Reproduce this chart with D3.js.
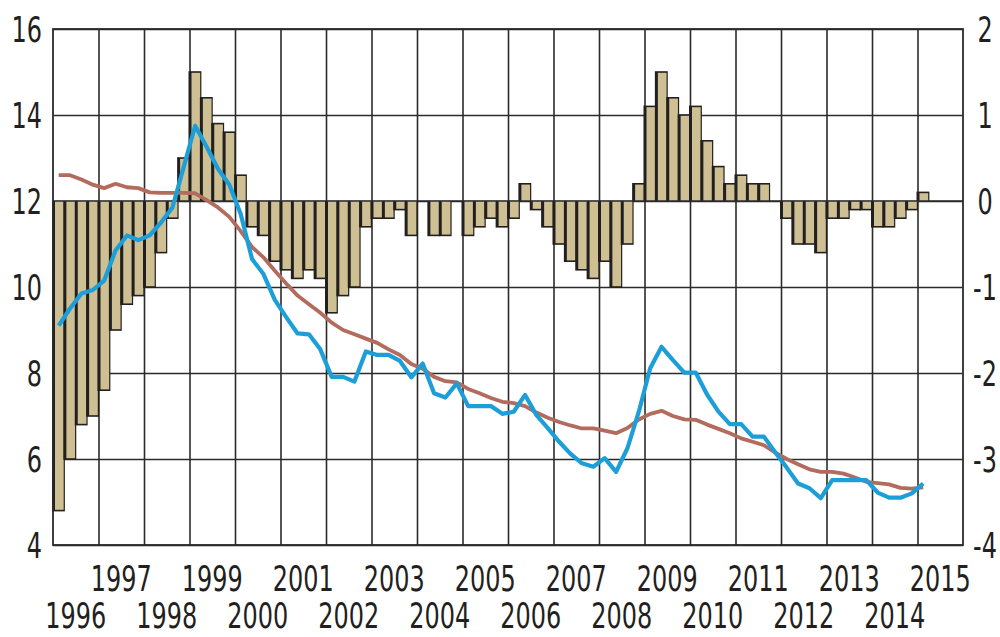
<!DOCTYPE html>
<html>
<head>
<meta charset="utf-8">
<script src="https://cdn.jsdelivr.net/npm/d3@7"></script>
<style>
	body { margin: 0; background: #fff; }
	svg { display: block; }
	.lbl {
		font-family: "Liberation Sans Narrow", "DejaVu Sans Condensed", "Arial Narrow", sans-serif;
		font-size: 36px;
		fill: #231f20;
	}
</style>
</head>
<body>
<div id="chart"></div>
<script>
const startYear = 1996;
const yearLabels = [1996, 1997, 1998, 1999, 2000, 2001, 2002, 2003, 2004, 2005,
	2006, 2007, 2008, 2009, 2010, 2011, 2012, 2013, 2014, 2015];
const leftTicks = [4, 6, 8, 10, 12, 14, 16];
const rightTicks = [-4, -3, -2, -1, 0, 1, 2];

// quarterly bars (right axis), 1996 Q1 .. 2015 Q1
const barValues = [
	-3.6, -3.0, -2.6, -2.5,
	-2.2, -1.5, -1.2, -1.1,
	-1.0, -0.6, -0.2, 0.5,
	1.5, 1.2, 0.9, 0.8,
	0.3, -0.3, -0.4, -0.7,
	-0.8, -0.9, -0.8, -0.9,
	-1.3, -1.1, -1.0, -0.3,
	-0.2, -0.2, -0.1, -0.4,
	0, -0.4, -0.4, 0,
	-0.4, -0.3, -0.2, -0.3,
	-0.2, 0.2, -0.1, -0.3,
	-0.5, -0.7, -0.8, -0.9,
	-0.7, -1.0, -0.5, 0.2,
	1.1, 1.5, 1.2, 1.0,
	1.1, 0.7, 0.4, 0.2,
	0.3, 0.2, 0.2, 0,
	-0.2, -0.5, -0.5, -0.6,
	-0.2, -0.2, -0.1, -0.1,
	-0.3, -0.3, -0.2, -0.1,
	0.1
];

// quarterly lines (left axis)
const blueLine = [
	9.1, 9.5, 9.85, 9.93,
	10.15, 10.85, 11.2, 11.09,
	11.2, 11.5, 11.85, 12.8,
	13.75, 13.26, 12.75, 12.38,
	11.7, 10.65, 10.3, 9.7,
	9.3, 8.92, 8.9, 8.55,
	7.91, 7.91, 7.8, 8.5,
	8.42, 8.42, 8.28, 7.9,
	8.22, 7.53, 7.43, 7.76,
	7.23, 7.23, 7.23, 7.05,
	7.1, 7.49, 7.02, 6.72,
	6.4, 6.12, 5.9, 5.82,
	6.02, 5.7, 6.25, 7.1,
	8.11, 8.61, 8.3, 8.01,
	8.01, 7.5, 7.1, 6.81,
	6.81, 6.52, 6.52, 6.15,
	5.8, 5.43, 5.32, 5.09,
	5.51, 5.51, 5.51, 5.51,
	5.22, 5.1, 5.1, 5.2,
	5.43
];

const redLine = [
	12.6, 12.6, 12.5, 12.38,
	12.3, 12.4, 12.32, 12.3,
	12.2, 12.19, 12.19, 12.19,
	12.18, 12.02, 11.85, 11.63,
	11.3, 10.93, 10.69, 10.38,
	10.08, 9.8, 9.6, 9.4,
	9.17, 9.0, 8.9, 8.8,
	8.7, 8.55, 8.42, 8.21,
	8.1, 7.91, 7.81, 7.78,
	7.63, 7.53, 7.42, 7.33,
	7.3, 7.23, 7.08, 6.96,
	6.86, 6.78, 6.71, 6.71,
	6.66, 6.6, 6.72, 6.92,
	7.05, 7.12, 7.0, 6.92,
	6.91, 6.8, 6.7, 6.6,
	6.48, 6.4, 6.32, 6.15,
	6.0, 5.88, 5.76, 5.7,
	5.7, 5.66, 5.57, 5.47,
	5.44, 5.41, 5.33, 5.31,
	5.34
];

const W = 1000, H = 637;
const margin = { top: 29, right: 37, bottom: 92, left: 53 };
const plotW = W - margin.left - margin.right;
const plotH = H - margin.top - margin.bottom;
const squeeze = 0.74; // condensed look for the labels

const svg = d3.select("#chart").append("svg").attr("width", W).attr("height", H);

const x = d3.scaleLinear().domain([startYear, startYear + yearLabels.length]).range([margin.left, margin.left + plotW]);
const yL = d3.scaleLinear().domain([4, 16]).range([margin.top + plotH, margin.top]);
const yR = d3.scaleLinear().domain([-4, 2]).range([margin.top + plotH, margin.top]);

const quarterX = (i) => x(startYear + (i + 0.5) / 4);

// grid
const gridColor = "#2b2b2b";
const gGrid = svg.append("g");
gGrid.append("g")
	.attr("transform", `translate(0,${margin.top + plotH})`)
	.call(d3.axisBottom(x).tickValues(yearLabels.slice(1)).tickSize(plotH).tickFormat(""))
	.call((g) => g.select(".domain").remove())
	.call((g) => g.selectAll("line").attr("transform", `translate(0,${-plotH})`).attr("stroke", gridColor).attr("stroke-width", 1.6));
gGrid.append("g")
	.attr("transform", `translate(${margin.left},0)`)
	.call(d3.axisRight(yL).tickValues(leftTicks).tickSize(plotW).tickFormat(""))
	.call((g) => g.select(".domain").remove())
	.call((g) => g.selectAll("line").attr("stroke", gridColor).attr("stroke-width", 1.6));

// bars
const step = x(startYear + 0.25) - x(startYear);
const bars = barValues.map((v, i) => ({ v, i })).filter((d) => d.v !== 0);
const barG = svg.append("g")
	.selectAll("g")
	.data(bars)
	.join("g");

barG.append("rect")
	.attr("x", (d) => x(startYear + d.i / 4) - 1)
	.attr("width", step + 1.5)
	.attr("y", (d) => (d.v > 0 ? yR(d.v) - 0.8 : yR(0)))
	.attr("height", (d) => Math.abs(yR(d.v) - yR(0)) + 0.8)
	.attr("fill", "#231f20");

barG.append("rect")
	.attr("x", (d) => x(startYear + d.i / 4) + 2)
	.attr("width", step - 2.7)
	.attr("y", (d) => (d.v > 0 ? yR(d.v) + 0.8 : yR(0)))
	.attr("height", (d) => Math.max(0, Math.abs(yR(d.v) - yR(0)) - 0.8))
	.attr("fill", "#cfc093");

// zero line over bars
svg.append("line")
	.attr("x1", margin.left).attr("x2", margin.left + plotW)
	.attr("y1", yR(0)).attr("y2", yR(0))
	.attr("stroke", gridColor).attr("stroke-width", 1.6);

// frame
svg.append("rect")
	.attr("x", margin.left).attr("y", margin.top)
	.attr("width", plotW).attr("height", plotH)
	.attr("fill", "none").attr("stroke", gridColor).attr("stroke-width", 1.8);

// lines
const line = d3.line()
	.x((d, i) => quarterX(i))
	.y((d) => yL(d));

svg.append("path")
	.datum(redLine)
	.attr("fill", "none")
	.attr("stroke", "#b26b5c")
	.attr("stroke-width", 3.8)
	.attr("stroke-linejoin", "round")
	.attr("d", line);

svg.append("path")
	.datum(blueLine)
	.attr("fill", "none")
	.attr("stroke", "#1c9fd8")
	.attr("stroke-width", 4.2)
	.attr("stroke-linejoin", "round")
	.attr("d", line);

// axis labels (squeezed horizontally around their anchor)
function placeLabel(sel, fx, fy) {
	sel.attr("transform", (d, i) => `translate(${fx(d, i)},${fy(d, i)}) scale(${squeeze},1)`);
}

svg.append("g")
	.selectAll("text")
	.data(leftTicks)
	.join("text")
	.attr("class", "lbl")
	.attr("dy", "0.36em")
	.attr("text-anchor", "end")
	.text((d) => d)
	.call(placeLabel, () => 42, (d) => yL(d));

svg.append("g")
	.selectAll("text")
	.data(rightTicks)
	.join("text")
	.attr("class", "lbl")
	.attr("dy", "0.36em")
	.attr("text-anchor", "middle")
	.text((d) => d)
	.call(placeLabel, () => 985, (d) => yR(d));

svg.append("g")
	.selectAll("text")
	.data(yearLabels)
	.join("text")
	.attr("class", "lbl")
	.attr("text-anchor", "middle")
	.text((d) => d)
	.call(placeLabel, (d) => x(d + 0.5), (d, i) => (i % 2 === 0 ? 628 : 591));
</script>
</body>
</html>
